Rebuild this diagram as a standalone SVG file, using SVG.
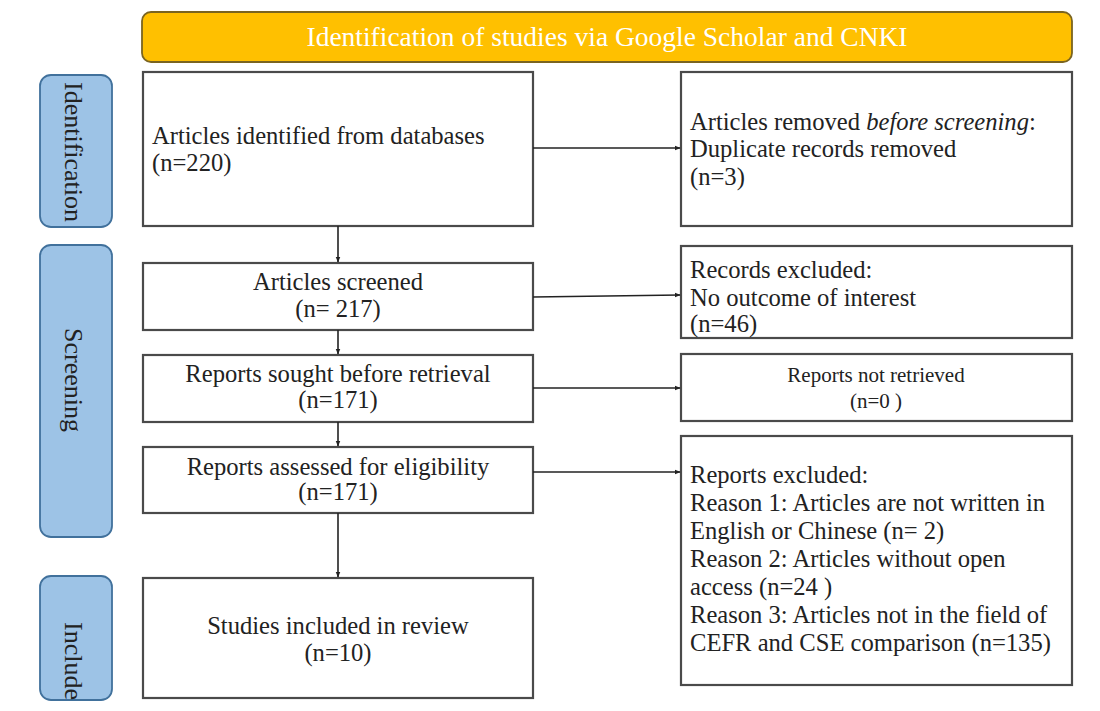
<svg xmlns="http://www.w3.org/2000/svg" width="1100" height="711" viewBox="0 0 1100 711">
<style>
.box{fill:#fff;stroke:#4a4a4a;stroke-width:2.2}
.side{fill:#9dc3e6;stroke:#41719c;stroke-width:1.8}
.t{font-family:"Liberation Serif","Times New Roman",serif;font-size:24.6px;fill:#222}
.c{text-anchor:middle}
.sl{font-family:"Liberation Serif","Times New Roman",serif;font-size:26px;fill:#222}
.ln{stroke:#222;stroke-width:1.6;fill:none}
</style>
<defs>
<marker id="ah" viewBox="0 0 10 10" refX="9" refY="5" markerWidth="6" markerHeight="6" orient="auto" markerUnits="userSpaceOnUse">
<path d="M0,1 L10,5 L0,9 z" fill="#222"/>
</marker>
</defs>
<rect width="1100" height="711" fill="#fff"/>
<g id="title">
<rect x="142" y="12" width="930" height="50" rx="9" fill="#ffc000" stroke="#7a6420" stroke-width="1.8"/>
<text x="607" y="46" class="t c" style="fill:#fff;font-size:27.5px">Identification of studies via Google Scholar and CNKI</text>
</g>
<g id="side-identification">
<rect x="40" y="75" width="72" height="152" rx="11" class="side"/>
<text class="sl" transform="translate(65,82) rotate(90)">Identification</text>
</g>
<g id="side-screening">
<rect x="40" y="245" width="72" height="292" rx="11" class="side"/>
<text class="sl" transform="translate(65,328) rotate(90)">Screening</text>
</g>
<g id="side-include">
<rect x="40" y="576" width="72" height="124" rx="11" class="side"/>
<text class="sl" transform="translate(65,622) rotate(90)">Include</text>
</g>
<g id="box-identified">
<rect x="143" y="72" width="390" height="154" class="box"/>
<text class="t" x="152" y="144">Articles identified from databases</text>
<text class="t" x="152" y="171">(n=220)</text>
</g>
<g id="box-screened">
<rect x="143" y="263" width="390" height="67" class="box"/>
<text class="t c" x="338" y="290">Articles screened</text>
<text class="t c" x="338" y="317">(n= 217)</text>
</g>
<g id="box-sought">
<rect x="143" y="355" width="390" height="67" class="box"/>
<text class="t c" x="338" y="382">Reports sought before retrieval</text>
<text class="t c" x="338" y="408">(n=171)</text>
</g>
<g id="box-assessed">
<rect x="143" y="447" width="390" height="66" class="box"/>
<text class="t c" x="338" y="475">Reports assessed for eligibility</text>
<text class="t c" x="338" y="500">(n=171)</text>
</g>
<g id="box-included">
<rect x="143" y="578" width="390" height="120" class="box"/>
<text class="t c" x="338" y="634">Studies included in review</text>
<text class="t c" x="338" y="661">(n=10)</text>
</g>
<g id="box-removed">
<rect x="681" y="72" width="391" height="154" class="box"/>
<text class="t" x="690" y="130">Articles removed <tspan font-style="italic">before screening</tspan>:</text>
<text class="t" x="690" y="157">Duplicate records removed</text>
<text class="t" x="690" y="185">(n=3)</text>
</g>
<g id="box-excluded-records">
<rect x="681" y="246" width="391" height="92" class="box"/>
<text class="t" x="690" y="278">Records excluded:</text>
<text class="t" x="690" y="306">No outcome of interest</text>
<text class="t" x="690" y="332">(n=46)</text>
</g>
<g id="box-not-retrieved">
<rect x="681" y="354" width="391" height="67" class="box"/>
<text class="t c" x="876" y="382" style="font-size:21px">Reports not retrieved</text>
<text class="t c" x="876" y="408" style="font-size:21px">(n=0 )</text>
</g>
<g id="box-excluded-reports">
<rect x="681" y="436" width="391" height="249" class="box"/>
<text class="t" x="690" y="483">Reports excluded:</text>
<text class="t" x="690" y="511">Reason 1: Articles are not written in</text>
<text class="t" x="690" y="539">English or Chinese (n= 2)</text>
<text class="t" x="690" y="567">Reason 2: Articles without open</text>
<text class="t" x="690" y="595">access (n=24 )</text>
<text class="t" x="690" y="623">Reason 3: Articles not in the field of</text>
<text class="t" x="690" y="651">CEFR and CSE comparison (n=135)</text>
</g>
<g id="connectors">
<line class="ln" x1="338" y1="226" x2="338" y2="262" marker-end="url(#ah)"/>
<line class="ln" x1="338" y1="330" x2="338" y2="354" marker-end="url(#ah)"/>
<line class="ln" x1="338" y1="422" x2="338" y2="446" marker-end="url(#ah)"/>
<line class="ln" x1="338" y1="513" x2="338" y2="577" marker-end="url(#ah)"/>
<line class="ln" x1="533" y1="148" x2="680" y2="148" marker-end="url(#ah)"/>
<line class="ln" x1="533" y1="297" x2="680" y2="295" marker-end="url(#ah)"/>
<line class="ln" x1="533" y1="388" x2="680" y2="388" marker-end="url(#ah)"/>
<line class="ln" x1="533" y1="472" x2="680" y2="472" marker-end="url(#ah)"/>
</g>
</svg>
